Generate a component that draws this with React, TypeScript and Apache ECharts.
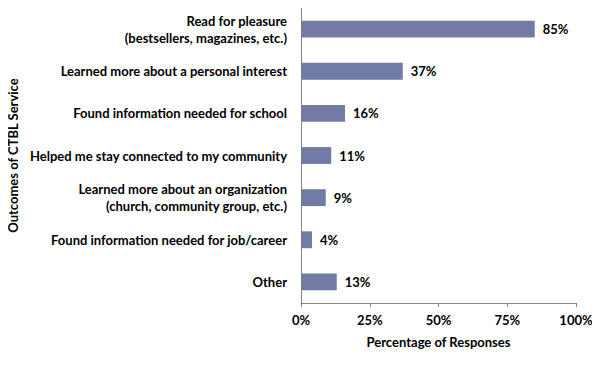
import React, { useEffect, useRef } from "react";
import * as echarts from "echarts";

const categories = [
  "Read for pleasure\n(bestsellers, magazines, etc.)",
  "Learned more about a personal interest",
  "Found information needed for school",
  "Helped me stay connected to my community",
  "Learned more about an organization\n(church, community group, etc.)",
  "Found information needed for job/career",
  "Other",
];
const values = [85, 37, 16, 11, 9, 4, 13];
const xTicks = { min: 0, max: 100, interval: 25 };

export default function App() {
  const ref = useRef<HTMLDivElement>(null);
  useEffect(() => {
    const chart = echarts.init(ref.current!, null, { renderer: "svg" });
    const font = "Lato";
    chart.setOption({
      animation: false,
      backgroundColor: "#ffffff",
      grid: { left: 301, right: 24, top: 8, bottom: 70, containLabel: false },
      xAxis: {
        type: "value",
        min: xTicks.min,
        max: xTicks.max,
        interval: xTicks.interval,
        name: "Percentage of Responses",
        nameLocation: "middle",
        nameGap: 32,
        nameTextStyle: { fontFamily: font, fontWeight: "bold", fontSize: 13, color: "#000" },
        axisLine: { show: true, lineStyle: { color: "#868686", width: 1 } },
        axisTick: { show: true, length: 4, lineStyle: { color: "#868686" } },
        splitLine: { show: false },
        axisLabel: {
          formatter: "{value}%",
          fontFamily: font,
          fontWeight: "bold",
          fontSize: 13,
          color: "#000",
          margin: 10,
        },
      },
      yAxis: {
        type: "category",
        inverse: true,
        data: categories,
        name: "Outcomes of CTBL Service",
        nameLocation: "middle",
        nameGap: 282,
        nameTextStyle: { fontFamily: font, fontWeight: "bold", fontSize: 13, color: "#000" },
        axisLine: { show: true, lineStyle: { color: "#868686", width: 1 } },
        axisTick: { show: false },
        axisLabel: {
          fontFamily: font,
          fontWeight: "bold",
          fontSize: 13,
          color: "#000",
          margin: 14,
          align: "right",
          lineHeight: 17,
        },
      },
      series: [
        {
          type: "bar",
          data: values,
          barCategoryGap: "60%",
          itemStyle: { color: "#717ba3" },
          label: {
            show: true,
            position: "right",
            distance: 8,
            formatter: "{c}%",
            fontFamily: font,
            fontWeight: "bold",
            fontSize: 13,
            color: "#000",
          },
        },
      ],
    });
    return () => chart.dispose();
  }, []);
  return <div ref={ref} style={{ width: 600, height: 373, margin: -8 }} />;
}
